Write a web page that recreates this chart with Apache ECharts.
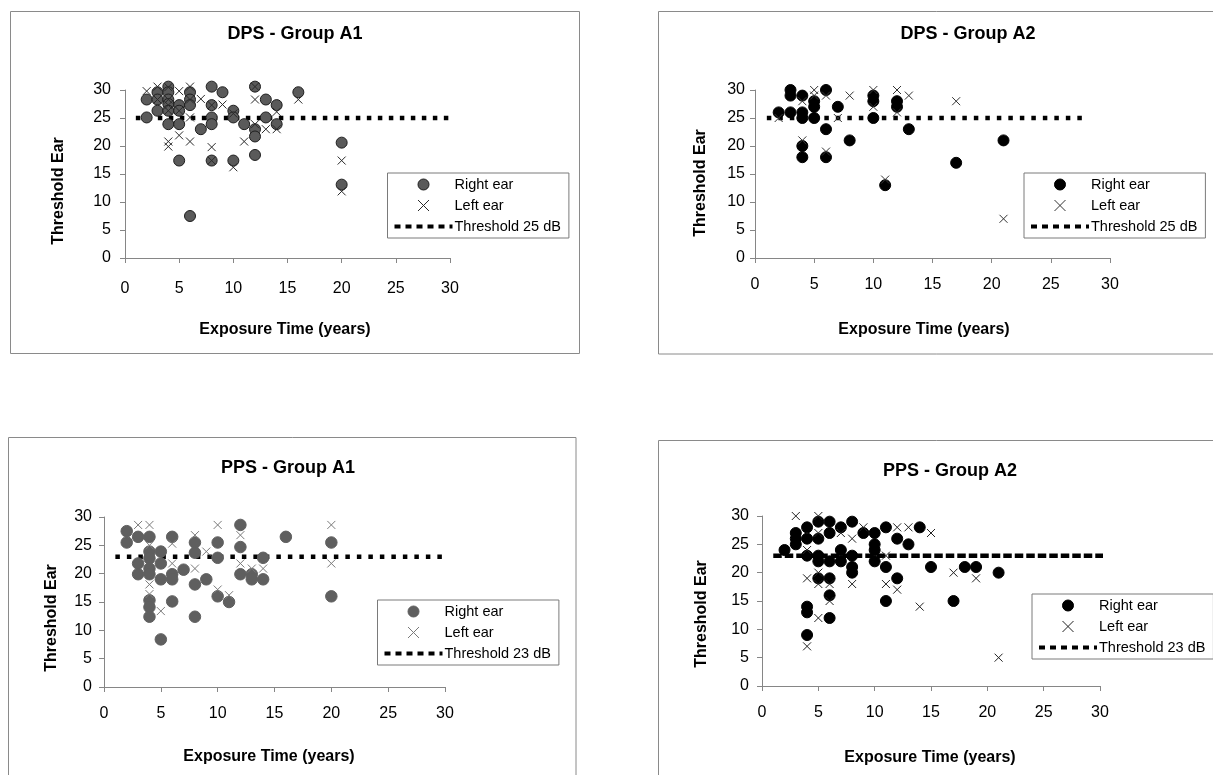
<!DOCTYPE html>
<html lang="en">
<head>
<meta charset="UTF-8">
<title>Threshold Ear vs Exposure Time</title>
<style>
  html, body { margin: 0; padding: 0; background: #fff; }
  #chart { width: 1213px; height: 775px; }
</style>
</head>
<body>
<div id="chart"></div>
<script src="https://cdn.jsdelivr.net/npm/echarts@6/dist/echarts.min.js"></script>
<script>
// values: [exposure years, threshold dB]
const dpsA1Right = [[2,28.3],[2,25.1],[3,29.6],[3,28.3],[3,26.3],[4,30.6],[4,29.6],[4,28.3],[4,27.5],[4,26.3],[4,23.9],
  [5,27.3],[5,26.3],[5,23.9],[5,17.4],[6,29.6],[6,28.3],[6,27.3],[6,7.5],[7,23.0],[8,30.6],[8,27.3],[8,25.1],[8,23.9],
  [8,17.4],[9,29.6],[10,26.3],[10,25.1],[10,17.4],[11,23.9],[12,30.6],[12,23.0],[12,21.7],[12,18.4],[13,28.3],[13,25.1],
  [14,27.3],[14,23.9],[16,29.6],[20,20.6],[20,13.1]];
const dpsA1Left = [[2,29.8],[3,30.6],[3,28.3],[4,30.5],[4,28.3],[4,27.3],[4,26.3],[4,20.8],[4,19.9],[5,29.8],[5,26.3],
  [5,21.9],[6,30.6],[6,28.3],[6,25.1],[6,20.8],[7,28.4],[8,27.3],[8,19.8],[8,17.4],[9,27.4],[10,25.8],[10,16.2],[11,20.8],
  [12,30.6],[12,28.3],[12,23.9],[13,23.0],[14,26.1],[14,23.0],[16,28.3],[20,17.4],[20,11.9]];
const dpsA1Line = [[1,25],[30,25]];

const dpsA2Right = [[2,26],[3,30],[3,29],[3,26],[4,29],[4,26],[4,25],[4,20],[4,18],[5,28],[5,27],[5,25],[6,30],[6,23],
  [6,18],[7,27],[8,21],[10,29],[10,28],[10,25],[11,13],[12,28],[12,27],[13,23],[17,17],[21,21]];
const dpsA2Left = [[2,25],[4,28],[4,21],[5,30],[5,29],[6,29],[6,19],[7,25],[8,29],[10,30],[10,27],[11,14],[12,30],[12,26],
  [13,29],[17,28],[21,7]];
const dpsA2Line = [[1,25],[28,25]];

const ppsA1Right = [[2,27.5],[2,25.5],[3,26.5],[3,21.8],[3,19.9],[4,26.5],[4,23.9],[4,22.7],[4,20.9],[4,19.9],[4,15.3],
  [4,14.1],[4,12.4],[5,23.9],[5,21.8],[5,19.0],[5,8.4],[6,26.5],[6,19.9],[6,19.0],[6,15.1],[7,20.7],[8,25.5],[8,23.7],
  [8,18.1],[8,12.4],[9,19.0],[10,25.5],[10,22.8],[10,16.0],[11,15.0],[12,28.6],[12,24.7],[12,19.9],[13,19.9],[13,19.0],
  [14,22.8],[14,19.0],[16,26.5],[20,25.5],[20,16.0]];
const ppsA1Left = [[3,28.6],[4,28.6],[4,25.0],[4,18.1],[4,16.4],[5,13.4],[6,25.3],[6,21.8],[8,26.8],[8,20.9],[9,23.9],
  [10,28.6],[10,17.2],[11,16.2],[12,26.8],[12,21.8],[13,20.9],[14,20.9],[20,28.6],[20,21.8]];
const ppsA1Line = [[1,23],[30,23]];

const ppsA2Right = [[2,24],[3,27],[3,26],[3,25],[4,28],[4,26],[4,23],[4,14],[4,13],[4,9],[5,29],[5,26],[5,23],[5,22],
  [5,19],[6,29],[6,27],[6,22],[6,19],[6,16],[6,12],[7,28],[7,24],[7,22],[8,29],[8,23],[8,21],[8,20],[9,27],[10,27],
  [10,25],[10,24],[10,22],[11,28],[11,21],[11,15],[12,26],[12,19],[13,25],[14,28],[15,21],[17,15],[18,21],[19,21],[21,20]];
const ppsA2Left = [[3,30],[4,24],[4,19],[4,7],[5,30],[5,27],[5,20],[5,18],[5,12],[6,18],[6,15],[7,27],[8,26],[8,18],
  [9,28],[11,23],[11,18],[12,28],[12,17],[13,28],[14,14],[15,27],[17,20],[19,19],[21,5]];
const ppsA2Line = [[1,23],[32.5,23]];

const axisMin = 0;
const axisMax = 30;
const axisStep = 5;

const crossPath = 'path://M0,0L10,10M10,0L0,10';
const font = '"Liberation Sans", Arial, sans-serif';

const panels = [
  { title: 'DPS - Group A1', right: dpsA1Right, left: dpsA1Left, line: dpsA1Line, thr: 'Threshold 25 dB',
    grid: { left: 125, top: 90, width: 325, height: 168 }, titleAt: [295, 25], yNameAt: [59, 191], xNameAt: [285, 330],
    legendAt: [387.5, 173], xMargin: 23, yMargin: 14,
    dot: { color: '#5a5a5a', border: '#1e1e1e', size: 11 }, cross: { color: '#2a2a2a', size: 8 },
    dash: [4.5, 6.5], dashWidth: 4.5 },
  { title: 'DPS - Group A2', right: dpsA2Right, left: dpsA2Left, line: dpsA2Line, thr: 'Threshold 25 dB',
    grid: { left: 755, top: 90, width: 355, height: 168 }, titleAt: [968, 25], yNameAt: [701, 183], xNameAt: [924, 330],
    legendAt: [1024, 173], xMargin: 19, yMargin: 10,
    dot: { color: '#000', border: '#000', size: 11 }, cross: { color: '#333', size: 8 },
    dash: [4.5, 7], dashWidth: 4.5 },
  { title: 'PPS - Group A1', right: ppsA1Right, left: ppsA1Left, line: ppsA1Line, thr: 'Threshold 23 dB',
    grid: { left: 104, top: 517, width: 341, height: 170 }, titleAt: [288, 459], yNameAt: [52, 618], xNameAt: [269, 757],
    legendAt: [377.5, 600], xMargin: 19, yMargin: 12,
    dot: { color: '#5f5f5f', border: '#5f5f5f', size: 11.5 }, cross: { color: '#7a7a7a', size: 8 },
    dash: [4.5, 7], dashWidth: 4.5 },
  { title: 'PPS - Group A2', right: ppsA2Right, left: ppsA2Left, line: ppsA2Line, thr: 'Threshold 23 dB',
    grid: { left: 762, top: 516, width: 338, height: 170 }, titleAt: [950, 462], yNameAt: [702, 614], xNameAt: [930, 758],
    legendAt: [1032, 594], xMargin: 19, yMargin: 13,
    dot: { color: '#000', border: '#000', size: 11 }, cross: { color: '#222', size: 8 },
    dash: [8.5, 3], dashWidth: 4.5 }
];

// panel frames (the last two are cut by the picture edge)
const frames = [
  { x: 10.5, y: 11.5, width: 569, height: 342 },
  { x: 658.5, y: 11.5, width: 600, height: 342.5 },
  { x: 8.5, y: 437.5, width: 567.5, height: 400 },
  { x: 658.5, y: 440.5, width: 600, height: 400 }
];

let myChart = echarts.init(document.getElementById('chart'), null, { renderer: 'canvas' });

let title = [], grid = [], xAxis = [], yAxis = [], legend = [], series = [], graphic = [];

panels.forEach(function (p, i) {
  title.push({
    text: p.title, left: p.titleAt[0], top: p.titleAt[1], textAlign: 'center', padding: 0,
    textStyle: { fontFamily: font, fontSize: 18, fontWeight: 'bold', color: '#000' }
  });
  grid.push(Object.assign({ containLabel: false }, p.grid));
  xAxis.push({
    type: 'value', gridIndex: i, min: axisMin, max: axisMax, interval: axisStep,
    axisLine: { show: true, lineStyle: { color: '#868686', width: 1 } },
    axisTick: { show: true, length: 5, lineStyle: { color: '#868686' } },
    axisLabel: { margin: p.xMargin, fontFamily: font, fontSize: 16, color: '#000' },
    splitLine: { show: false }
  });
  yAxis.push({
    type: 'value', gridIndex: i, min: axisMin, max: axisMax, interval: axisStep,
    axisLine: { show: true, lineStyle: { color: '#868686', width: 1 } },
    axisTick: { show: true, length: 5, lineStyle: { color: '#868686' } },
    axisLabel: { margin: p.yMargin, fontFamily: font, fontSize: 16, color: '#000' },
    splitLine: { show: false }
  });
  let rName = 'Right ear|' + i, lName = 'Left ear|' + i, tName = p.thr + '|' + i;
  legend.push({
    orient: 'vertical', left: p.legendAt[0], top: p.legendAt[1],
    data: [rName, lName, {
      name: tName,
      itemStyle: { color: 'rgba(0,0,0,0)', borderColor: 'rgba(0,0,0,0)', borderWidth: 0, opacity: 0 }
    }],
    itemWidth: 58, itemHeight: 11, itemGap: 6, padding: [4, 8, 4, 5],
    borderColor: '#7a7a7a', borderWidth: 1, selectedMode: false,
    itemStyle: { borderWidth: 1 },
    lineStyle: { type: [6, 5], width: 4, color: '#000' },
    textStyle: { fontFamily: font, fontSize: 14.5, color: '#000', padding: [0, 0, 0, -3] },
    formatter: function (name) { return name.split('|')[0]; }
  });
  series.push({
    name: rName, type: 'scatter', xAxisIndex: i, yAxisIndex: i, data: p.right,
    symbol: 'circle', symbolSize: p.dot.size, clip: false,
    itemStyle: { color: p.dot.color, borderColor: p.dot.border, borderWidth: 1, opacity: 1 }
  });
  series.push({
    name: lName, type: 'scatter', xAxisIndex: i, yAxisIndex: i, data: p.left,
    symbol: crossPath, symbolSize: p.cross.size, symbolKeepAspect: true, clip: false,
    itemStyle: { color: p.cross.color, borderColor: p.cross.color, borderWidth: 1, opacity: 1 }
  });
  series.push({
    name: tName, type: 'line', xAxisIndex: i, yAxisIndex: i, data: p.line,
    symbol: 'none', clip: false, silent: true, z: 1,
    itemStyle: { color: 'rgba(0,0,0,0)' },
    lineStyle: { color: '#000', width: p.dashWidth, type: p.dash, cap: 'butt' }
  });

  graphic.push({
    type: 'rect', silent: true, shape: frames[i],
    style: { fill: 'none', stroke: '#8a8a8a', lineWidth: 1 }
  });
  graphic.push({
    type: 'text', silent: true, x: p.yNameAt[0], y: p.yNameAt[1], rotation: Math.PI / 2,
    style: { text: 'Threshold Ear', font: 'bold 16px ' + font, fill: '#000',
      textAlign: 'center', textVerticalAlign: 'middle', align: 'center', verticalAlign: 'middle' }
  });
  graphic.push({
    type: 'text', silent: true, x: p.xNameAt[0], y: p.xNameAt[1],
    style: { text: 'Exposure Time (years)', font: 'bold 16px ' + font, fill: '#000',
      textAlign: 'center', textVerticalAlign: 'middle', align: 'center', verticalAlign: 'middle' }
  });
});

myChart.setOption({
  animation: false,
  backgroundColor: '#fff',
  textStyle: { fontFamily: font },
  title: title,
  grid: grid,
  xAxis: xAxis,
  yAxis: yAxis,
  legend: legend,
  series: series,
  graphic: graphic
});
</script>
</body>
</html>
